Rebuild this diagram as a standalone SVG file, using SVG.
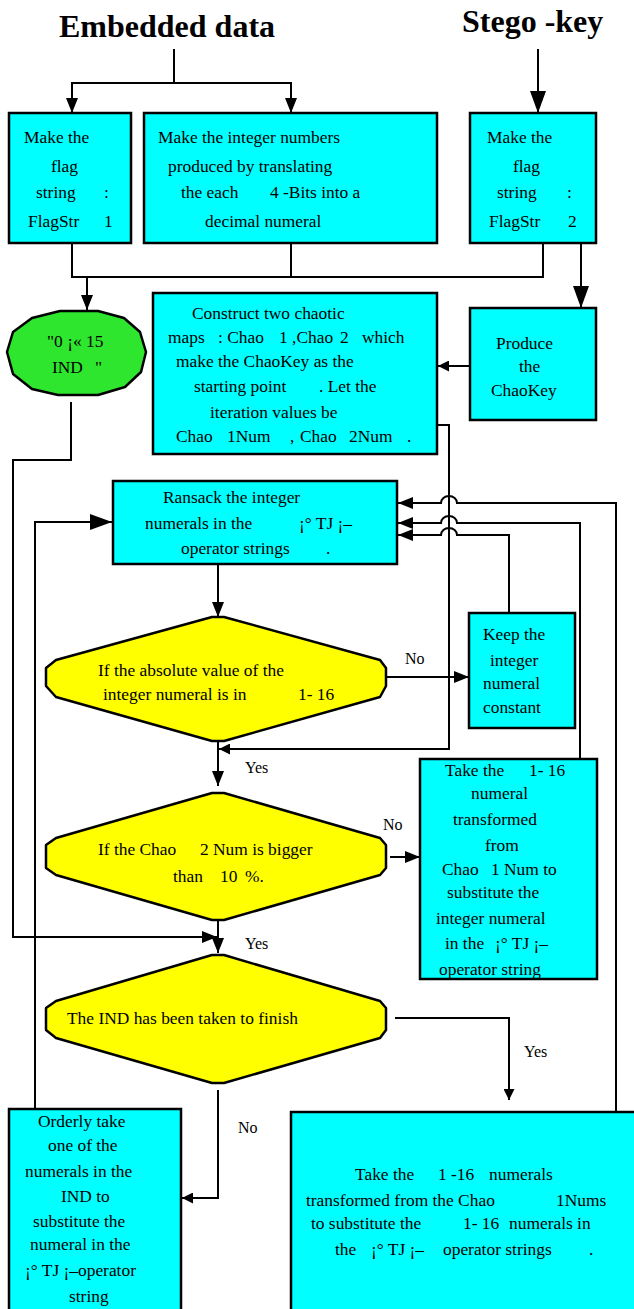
<svg xmlns="http://www.w3.org/2000/svg" width="634" height="1309" viewBox="0 0 634 1309">
<style>
.box{fill:#00FFFF;stroke:#000;stroke-width:2.5}
.dia{fill:#FFFF00;stroke:#000;stroke-width:2.5;stroke-linejoin:round}
.grn{fill:#2EE62E;stroke:#000;stroke-width:2.5;stroke-linejoin:round}
.ln{fill:none;stroke:#000;stroke-width:2}
.t{font-family:"Liberation Serif","Times New Roman",serif;font-size:17.4px;fill:#000}
.l{font-family:"Liberation Serif","Times New Roman",serif;font-size:16px;fill:#000}
.h{font-family:"Liberation Serif","Times New Roman",serif;font-size:32px;font-weight:bold;fill:#000}
</style>
<defs>
<marker id="a" markerWidth="15" markerHeight="12" refX="15" refY="6" orient="auto" markerUnits="userSpaceOnUse"><path d="M0,0 L15,6 L0,12 Z" fill="#000"/></marker>
<marker id="b" markerWidth="22" markerHeight="16" refX="22" refY="8" orient="auto" markerUnits="userSpaceOnUse"><path d="M0,0 L22,8 L0,16 Z" fill="#000"/></marker>
<marker id="s" markerWidth="11" markerHeight="11" refX="11" refY="5.5" orient="auto" markerUnits="userSpaceOnUse"><path d="M0,0 L11,5.5 L0,11 Z" fill="#000"/></marker>
</defs>
<rect width="634" height="1309" fill="#fff"/>

<g id="titles">
<text class="h" x="59" y="37">Embedded data</text>
<text class="h" x="462" y="32">Stego -key</text>
</g>

<g id="connectors">
<path class="ln" d="M174,49 V83 H72 V113" marker-end="url(#a)"/>
<path class="ln" d="M174,83 H291 V113" marker-end="url(#a)"/>
<path class="ln" d="M538,49 V113" marker-end="url(#b)"/>
<path class="ln" d="M72,243 V277 H543 V243"/>
<path class="ln" d="M291,243 V277"/>
<path class="ln" d="M87,277 V310" marker-end="url(#a)"/>
<path class="ln" d="M581,243 V308" marker-end="url(#b)"/>
<path class="ln" d="M470,366 H438" marker-end="url(#s)"/>
<path class="ln" d="M71,402 V460 H13 V937 H217" marker-end="url(#a)"/>
<path class="ln" d="M35,1109 V522 H112" marker-end="url(#b)"/>
<path class="ln" d="M218,564 V617" marker-end="url(#a)"/>
<path class="ln" d="M437,425 H449 V749 H219" marker-end="url(#s)"/>
<path class="ln" d="M386,677 H469" marker-end="url(#a)"/>
<path class="ln" d="M509,613 V535 H457 A8,7 0 0 0 441,535 H398" marker-end="url(#a)"/>
<path class="ln" d="M580,759 V523 H457 A8,7 0 0 0 441,523 H398" marker-end="url(#a)"/>
<path class="ln" d="M616,1113 V503 H457 A8,7 0 0 0 441,503 H398" marker-end="url(#a)"/>
<path class="ln" d="M218,741 V786" marker-end="url(#a)"/>
<path class="ln" d="M390,857 H420" marker-end="url(#a)"/>
<path class="ln" d="M218,920 V953" marker-end="url(#a)"/>
<path class="ln" d="M395,1018 H509 V1100" marker-end="url(#s)"/>
<path class="ln" d="M218,1090 V1198 H182" marker-end="url(#s)"/>
</g>

<g id="flag1">
<rect class="box" x="9" y="113" width="122" height="130"/>
<text class="t" x="24" y="143">Make the</text>
<text class="t" x="51" y="172">flag</text>
<text class="t" y="198"><tspan x="36">string</tspan><tspan x="104">:</tspan></text>
<text class="t" y="227"><tspan x="28">FlagStr</tspan><tspan x="104">1</tspan></text>
</g>

<g id="integers">
<rect class="box" x="144" y="113" width="293" height="130"/>
<text class="t" x="158" y="143">Make the integer numbers</text>
<text class="t" x="168" y="172">produced by translating</text>
<text class="t" y="198"><tspan x="181">the each</tspan><tspan x="270">4 -Bits into a</tspan></text>
<text class="t" x="205" y="227">decimal numeral</text>
</g>

<g id="flag2">
<rect class="box" x="470" y="113" width="126" height="130"/>
<text class="t" x="487" y="143">Make the</text>
<text class="t" x="513" y="172">flag</text>
<text class="t" y="198"><tspan x="497">string</tspan><tspan x="567">:</tspan></text>
<text class="t" y="227"><tspan x="489">FlagStr</tspan><tspan x="568">2</tspan></text>
</g>

<g id="ind">
<polygon class="grn" points="60,311 98,311 124,318 140,332 146,352 141,372 125,387 98,395 58,395 32,389 13,374 7,352 13,332 32,318"/>
<text class="t" x="47" y="347">"0 ¡« 15</text>
<text class="t" y="373"><tspan x="52">IND</tspan><tspan x="95">"</tspan></text>
</g>

<g id="construct">
<rect class="box" x="153" y="293" width="284" height="161"/>
<text class="t" x="192" y="319">Construct two chaotic</text>
<text class="t" y="343"><tspan x="168">maps</tspan><tspan x="218">: Chao</tspan><tspan x="279">1 ,Chao</tspan><tspan x="340">2</tspan><tspan x="362">which</tspan></text>
<text class="t" x="176" y="367">make the ChaoKey as the</text>
<text class="t" y="392"><tspan x="194">starting point</tspan><tspan x="319">. Let the</tspan></text>
<text class="t" x="210" y="418">iteration values be</text>
<text class="t" y="442"><tspan x="176">Chao</tspan><tspan x="227">1Num</tspan><tspan x="290">,</tspan><tspan x="300">Chao</tspan><tspan x="349">2Num</tspan><tspan x="407">.</tspan></text>
</g>

<g id="chaokey">
<rect class="box" x="470" y="308" width="126" height="112"/>
<text class="t" x="496" y="349">Produce</text>
<text class="t" x="519" y="372">the</text>
<text class="t" x="491" y="396">ChaoKey</text>
</g>

<g id="ransack">
<rect class="box" x="113" y="481" width="284" height="83"/>
<text class="t" x="163" y="503">Ransack the integer</text>
<text class="t" y="529"><tspan x="145">numerals in the</tspan><tspan x="299">¡° TJ  ¡–</tspan></text>
<text class="t" y="554"><tspan x="181">operator strings</tspan><tspan x="326">.</tspan></text>
</g>

<g id="decision1">
<path class="dia" d="M212,617 L224,617 L380,660 L386,668 L386,686 L380,697 L224,741 L212,741 L56,697 L46,686 L46,668 L56,660 Z"/>
<text class="t" x="98" y="676">If the absolute value of the</text>
<text class="t" y="700"><tspan x="103">integer numeral is in</tspan><tspan x="298">1- 16</tspan></text>
<text class="l" x="405" y="664">No</text>
<text class="l" x="245" y="773">Yes</text>
</g>

<g id="keep">
<rect class="box" x="469" y="613" width="106" height="115"/>
<text class="t" x="483" y="640">Keep the</text>
<text class="t" x="490" y="666">integer</text>
<text class="t" x="483" y="689">numeral</text>
<text class="t" x="483" y="713">constant</text>
</g>

<g id="decision2">
<path class="dia" d="M212,793 L224,793 L380,838 L386,845 L386,868 L380,875 L224,920 L212,920 L56,875 L46,868 L46,845 L56,838 Z"/>
<text class="t" y="855"><tspan x="98">If the Chao</tspan><tspan x="200">2 Num is bigger</tspan></text>
<text class="t" y="882"><tspan x="173">than</tspan><tspan x="220">10</tspan><tspan x="245">%.</tspan></text>
<text class="l" x="383" y="830">No</text>
<text class="l" x="245" y="949">Yes</text>
</g>

<g id="take1">
<rect class="box" x="420" y="759" width="177" height="220"/>
<text class="t" y="776"><tspan x="445">Take the</tspan><tspan x="529">1- 16</tspan></text>
<text class="t" x="471" y="799">numeral</text>
<text class="t" x="453" y="825">transformed</text>
<text class="t" x="485" y="851">from</text>
<text class="t" y="875"><tspan x="442">Chao</tspan><tspan x="491">1 Num to</tspan></text>
<text class="t" x="447" y="898">substitute the</text>
<text class="t" x="436" y="924">integer numeral</text>
<text class="t" y="949"><tspan x="445">in the</tspan><tspan x="495">¡° TJ  ¡–</tspan></text>
<text class="t" x="439" y="975">operator string</text>
</g>

<g id="decision3">
<path class="dia" d="M212,955 L224,955 L380,1001 L386,1008 L386,1030 L380,1038 L224,1083 L212,1083 L56,1038 L46,1030 L46,1008 L56,1001 Z"/>
<text class="t" x="67" y="1024">The IND has been taken to finish</text>
<text class="l" x="524" y="1057">Yes</text>
<text class="l" x="238" y="1133">No</text>
</g>

<g id="take2">
<rect class="box" x="291" y="1112" width="360" height="210"/>
<text class="t" y="1180"><tspan x="355">Take the</tspan><tspan x="438">1 -16</tspan><tspan x="489">numerals</tspan></text>
<text class="t" y="1206"><tspan x="306">transformed from the Chao</tspan><tspan x="556">1Nums</tspan></text>
<text class="t" y="1229"><tspan x="311">to substitute the</tspan><tspan x="463">1- 16</tspan><tspan x="509">numerals in</tspan></text>
<text class="t" y="1255"><tspan x="335">the</tspan><tspan x="371">¡° TJ  ¡–</tspan><tspan x="443">operator strings</tspan><tspan x="589">.</tspan></text>
</g>

<g id="orderly">
<rect class="box" x="9" y="1109" width="172" height="210"/>
<text class="t" x="38" y="1127">Orderly take</text>
<text class="t" x="48" y="1151">one of the</text>
<text class="t" x="25" y="1177">numerals in the</text>
<text class="t" x="61" y="1202">IND to</text>
<text class="t" x="33" y="1227">substitute the</text>
<text class="t" x="30" y="1250">numeral in the</text>
<text class="t" x="25" y="1276">¡° TJ  ¡–operator</text>
<text class="t" x="69" y="1302">string</text>
</g>
</svg>
